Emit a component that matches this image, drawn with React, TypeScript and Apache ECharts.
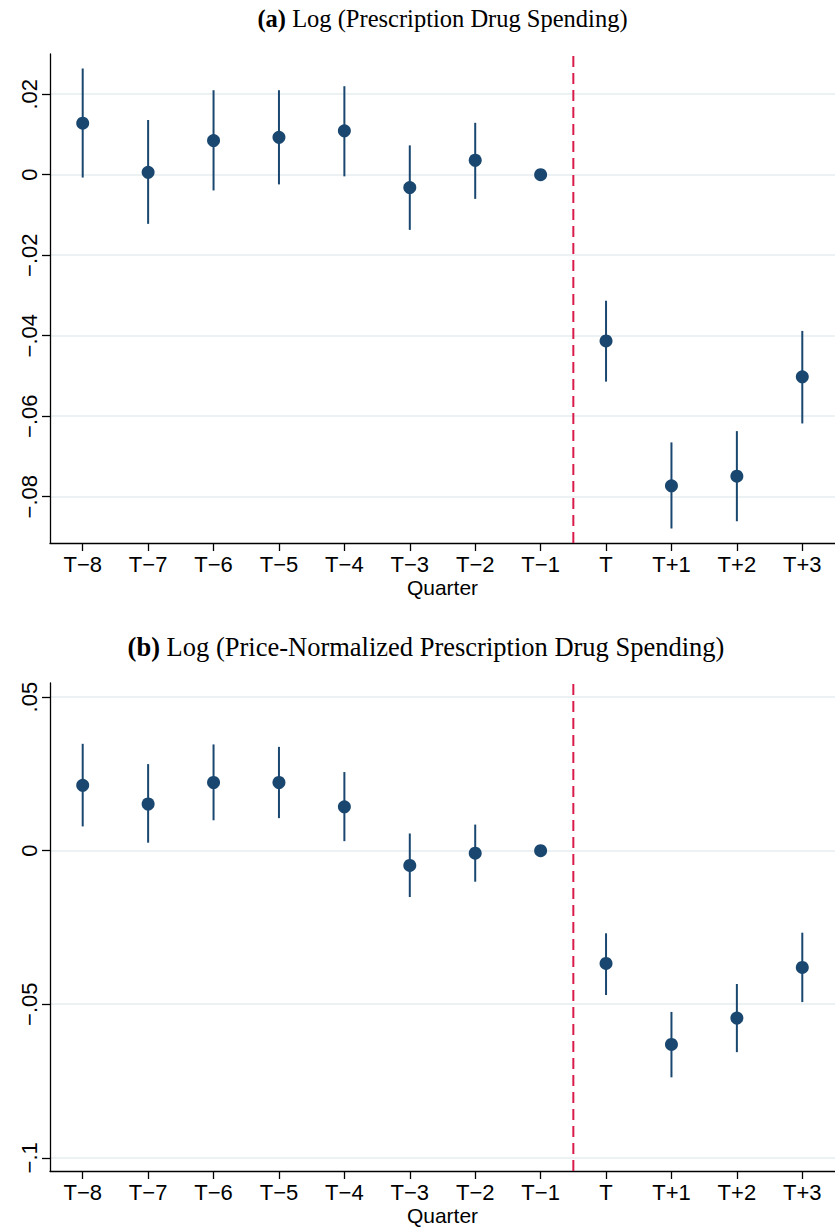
import React, { useEffect, useRef } from 'react';
import * as echarts from 'echarts';

// ---------- data ----------
const quarters = ['T−8', 'T−7', 'T−6', 'T−5', 'T−4', 'T−3', 'T−2', 'T−1', 'T', 'T+1', 'T+2', 'T+3'];

// Panel (a): Log (Prescription Drug Spending)
const spendEst = [0.0128, 0.0006, 0.0085, 0.0093, 0.0109, -0.0032, 0.0036, 0, -0.0413, -0.0773, -0.0749, -0.0502];
const spendLo = [-0.0007, -0.0122, -0.0039, -0.0024, -0.0004, -0.0137, -0.006, null, -0.0514, -0.0879, -0.0861, -0.0618];
const spendHi = [0.0264, 0.0136, 0.021, 0.021, 0.022, 0.0073, 0.0129, null, -0.0313, -0.0665, -0.0637, -0.0388];

// Panel (b): Log (Price-Normalized Prescription Drug Spending)
const normEst = [0.0213, 0.0152, 0.0222, 0.0222, 0.0143, -0.0048, -0.0008, 0, -0.0367, -0.0631, -0.0545, -0.038];
const normLo = [0.0079, 0.0026, 0.0099, 0.0106, 0.0031, -0.0151, -0.0101, null, -0.047, -0.0738, -0.0656, -0.0493];
const normHi = [0.0348, 0.0282, 0.0346, 0.0338, 0.0256, 0.0056, 0.0085, null, -0.0269, -0.0525, -0.0434, -0.0267];

const spendTicks = [-0.08, -0.06, -0.04, -0.02, 0, 0.02];
const normTicks = [-0.1, -0.05, 0, 0.05];
const spendRange = [-0.0915, 0.03];
const normRange = [-0.1043, 0.0546];
const eventPos = 7.5; // between T−1 and T

const titleA = 'Log (Prescription Drug Spending)';
const titleB = 'Log (Price-Normalized Prescription Drug Spending)';

// ---------- styles ----------
const NAVY = '#1a476f';
const RED = '#d81b4a';
const GRID = '#e6eef1';
const SANS = 'Liberation Sans, Arial, Helvetica, sans-serif';
const SERIF = 'Liberation Serif, Times New Roman, serif';
const FS = 22;

const fmtY = (v: number) => {
  if (Math.abs(v) < 1e-12) return '0';
  const s = parseFloat(Math.abs(v).toFixed(4)).toString().replace(/^0/, '');
  return (v < 0 ? '−' : '') + s;
};

function ciData(lo: (number | null)[], hi: (number | null)[]) {
  const out: number[][] = [];
  lo.forEach((l, i) => {
    const h = hi[i];
    if (l !== null && h !== null) out.push([i, l, h]);
  });
  return out;
}

export default function App() {
  const ref = useRef<HTMLDivElement>(null);
  useEffect(() => {
    if (!ref.current) return;
    const chart = echarts.init(ref.current, null, { renderer: 'svg' });

    const grids = [
      { left: 50, right: -2, top: 54, height: 489 },
      { left: 50, right: -2, top: 683, height: 488 },
    ];

    const catAxis = (gi: number) => ({
      type: 'category',
      gridIndex: gi,
      data: quarters,
      boundaryGap: true,
      axisLine: { show: true, onZero: false, lineStyle: { color: '#000', width: 1.3 } },
      axisTick: { show: true, alignWithLabel: true, length: 8, lineStyle: { color: '#000', width: 1.3 } },
      axisLabel: { fontSize: FS, color: '#000', fontFamily: SANS, margin: 10, interval: 0 },
      splitLine: { show: false },
      name: 'Quarter',
      nameLocation: 'middle',
      nameGap: 34,
      nameTextStyle: { fontSize: 21, color: '#000', fontFamily: SANS },
    });

    const hiddenValAxis = (gi: number) => ({
      type: 'value',
      gridIndex: gi,
      min: -0.5,
      max: quarters.length - 0.5,
      show: false,
      axisLine: { onZero: false },
    });

    const valAxis = (gi: number, range: number[], ticks: number[]) => ({
      type: 'value',
      gridIndex: gi,
      min: range[0],
      max: range[1],
      axisLine: { show: true, onZero: false, lineStyle: { color: '#000', width: 1.3 } },
      axisTick: { show: true, length: 8, customValues: ticks, lineStyle: { color: '#000', width: 1.3 } },
      axisLabel: {
        rotate: 90,
        customValues: ticks,
        formatter: fmtY,
        fontSize: FS,
        color: '#000',
        fontFamily: SANS,
        margin: 10,
      },
      splitLine: { show: true, lineStyle: { color: GRID, width: 1.5 } },
    });

    const ciSeries = (gi: number, lo: (number | null)[], hi: (number | null)[]) => ({
      type: 'custom',
      xAxisIndex: gi,
      yAxisIndex: gi,
      data: ciData(lo, hi),
      encode: { x: 0, y: [1, 2] },
      renderItem: (params: any, api: any) => {
        const x = api.value(0);
        const p1 = api.coord([x, api.value(1)]);
        const p2 = api.coord([x, api.value(2)]);
        return {
          type: 'line',
          shape: { x1: p1[0], y1: p1[1], x2: p2[0], y2: p2[1] },
          style: { stroke: NAVY, lineWidth: 2 },
        };
      },
      z: 3,
    });

    const ptSeries = (gi: number, est: number[]) => ({
      type: 'scatter',
      xAxisIndex: gi,
      yAxisIndex: gi,
      data: est,
      symbol: 'circle',
      symbolSize: 13,
      itemStyle: { color: NAVY, opacity: 1 },
      z: 4,
    });

    const eventSeries = (gi: number, range: number[]) => ({
      type: 'line',
      xAxisIndex: gi + 2,
      yAxisIndex: gi,
      data: [
        [eventPos, range[0]],
        [eventPos, range[1]],
      ],
      symbol: 'none',
      lineStyle: { color: RED, width: 2, type: [11, 6] },
      z: 2,
    });

    const titleText = (label: string, text: string, x: number, y: number, size: number) => ({
      type: 'text',
      x,
      y,
      style: {
        text: `{b|${label}} ` + text,
        textAlign: 'center',
        textVerticalAlign: 'middle',
        font: `${size}px ${SERIF}`,
        fill: '#000',
        rich: { b: { fontWeight: 'bold', fontSize: size, fontFamily: SERIF, fill: '#000' } },
      },
    });

    const option: any = {
      animation: false,
      backgroundColor: '#fff',
      grid: grids,
      xAxis: [catAxis(0), catAxis(1), hiddenValAxis(0), hiddenValAxis(1)],
      yAxis: [valAxis(0, spendRange, spendTicks), valAxis(1, normRange, normTicks)],
      graphic: [
        titleText('(a)', titleA, 442.5, 18, 24.5),
        titleText('(b)', titleB, 426, 647, 26.5),
      ],
      series: [
        eventSeries(0, spendRange),
        ciSeries(0, spendLo, spendHi),
        ptSeries(0, spendEst),
        eventSeries(1, normRange),
        ciSeries(1, normLo, normHi),
        ptSeries(1, normEst),
      ],
    };
    chart.setOption(option);
    return () => chart.dispose();
  }, []);

  return (
    <div
      ref={ref}
      style={{ position: 'absolute', left: 0, top: 0, width: 835, height: 1230, background: '#fff' }}
    />
  );
}
